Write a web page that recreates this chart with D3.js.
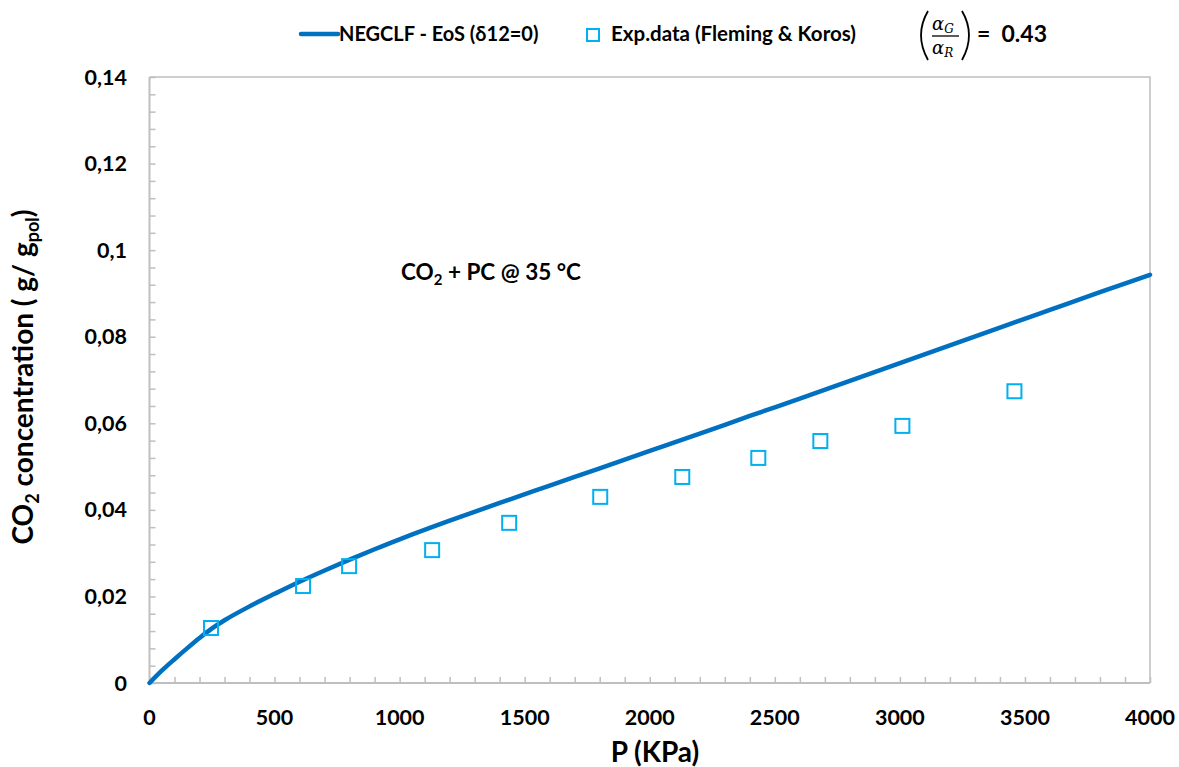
<!DOCTYPE html>
<html>
<head>
<meta charset="utf-8">
<script src="https://cdn.jsdelivr.net/npm/d3@7"></script>
<style>
  html, body { margin: 0; padding: 0; background: #fff; }
  svg text { font-family: Lato, "Open Sans", sans-serif; font-weight: bold; fill: #000; }
</style>
</head>
<body>
<svg id="chart" width="1179" height="767"></svg>
<script>
// NEGCLF model curve (P in kPa, concentration in g/g_pol)
const modelP = [0, 50, 100, 150, 200, 250, 300, 400, 500, 600, 700, 800, 900, 1000,
  1200, 1400, 1600, 1800, 2000, 2200, 2400, 2600, 2800, 3000, 3200, 3400, 3600, 3800, 4000];
const modelC = [0, 0.0029, 0.0055, 0.0080, 0.0104, 0.0126, 0.0145, 0.0177, 0.0206,
  0.0234, 0.0260, 0.0285, 0.0309, 0.0332, 0.0375, 0.0416, 0.0456, 0.0496, 0.0536, 0.0576,
  0.0617, 0.0657, 0.0698, 0.0739, 0.0780, 0.0821, 0.0862, 0.0903, 0.0943];

// Experimental sorption data (Fleming & Koros)
const expP = [246, 614, 798, 1130, 1438, 1802, 2130, 2434, 2682, 3010, 3458];
const expC = [0.0127, 0.0224, 0.0270, 0.0307, 0.0370, 0.0430, 0.0476, 0.0520, 0.0559, 0.0594, 0.0674];

const xTicks = [0, 500, 1000, 1500, 2000, 2500, 3000, 3500, 4000];
const yTicks = [0, 0.02, 0.04, 0.06, 0.08, 0.1, 0.12, 0.14];
const yTickLabels = ["0", "0,02", "0,04", "0,06", "0,08", "0,1", "0,12", "0,14"];

const svg = d3.select("#chart");
const plotL = 149.5, plotR = 1150, plotT = 77, plotB = 683;

const x = d3.scaleLinear().domain([0, 4000]).range([plotL, plotR]);
const y = d3.scaleLinear().domain([0, 0.14]).range([plotB, plotT]);

const axisColor = "#bfbfbf";

// plot frame (top and right)
svg.append("path")
  .attr("d", `M${plotL},${plotT}H${plotR}V${plotB}`)
  .attr("fill", "none").attr("stroke", axisColor).attr("stroke-width", 1.5);

// minor + major inward ticks
const xMinor = d3.range(0, 4001, 100);
const yMinor = d3.range(0, 0.1401, 0.004);

const gx = svg.append("g").attr("transform", `translate(0,${plotB})`);
gx.call(d3.axisBottom(x).tickValues(xMinor).tickSize(-6).tickFormat(""));
gx.select(".domain").remove();
gx.selectAll("line").attr("stroke", axisColor).attr("stroke-width", 1.5);

const gy = svg.append("g").attr("transform", `translate(${plotL},0)`);
gy.call(d3.axisLeft(y).tickValues(yMinor).tickSize(-6).tickFormat(""));
gy.select(".domain").remove();
gy.selectAll("line").attr("stroke", axisColor).attr("stroke-width", 1.5);

// axis lines
svg.append("line").attr("x1", plotL).attr("x2", plotR).attr("y1", plotB).attr("y2", plotB)
  .attr("stroke", axisColor).attr("stroke-width", 2);
svg.append("line").attr("x1", plotL).attr("x2", plotL).attr("y1", plotT).attr("y2", plotB)
  .attr("stroke", axisColor).attr("stroke-width", 2);

// tick labels
svg.append("g").selectAll("text").data(xTicks).join("text")
  .attr("x", d => x(d)).attr("y", 725)
  .attr("text-anchor", "middle").attr("font-size", 21.5)
  .text(d => d);

svg.append("g").selectAll("text").data(yTicks).join("text")
  .attr("x", 127).attr("y", d => y(d) + 7.5)
  .attr("text-anchor", "end").attr("font-size", 21.5)
  .text((d, i) => yTickLabels[i]);

// axis titles
svg.append("text").attr("x", 655).attr("y", 762).attr("text-anchor", "middle")
  .attr("font-size", 28).text("P (KPa)");

const yt = svg.append("text").attr("transform", "translate(33,377) rotate(-90)")
  .attr("text-anchor", "middle").attr("font-size", 28);
yt.append("tspan").text("CO");
yt.append("tspan").attr("font-size", 18).attr("dy", 6).text("2");
yt.append("tspan").attr("dy", -6).text(" concentration ( g/ g");
yt.append("tspan").attr("font-size", 18).attr("dy", 6).text("pol");
yt.append("tspan").attr("dy", -6).text(")");

// model curve
const line = d3.line().x(d => x(d[0])).y(d => y(d[1])).curve(d3.curveCatmullRom.alpha(0.5));
svg.append("path")
  .datum(modelP.map((p, i) => [p, modelC[i]]))
  .attr("d", line)
  .attr("fill", "none").attr("stroke", "#0070c0").attr("stroke-width", 4.5)
  .attr("stroke-linecap", "round");

// experimental points
const sq = 14;
svg.append("g").selectAll("rect").data(expP.map((p, i) => [p, expC[i]])).join("rect")
  .attr("x", d => x(d[0]) - sq / 2).attr("y", d => y(d[1]) - sq / 2)
  .attr("width", sq).attr("height", sq)
  .attr("fill", "none").attr("stroke", "#00b0f0").attr("stroke-width", 2);

// annotation
const ann = svg.append("text").attr("x", 401).attr("y", 280).attr("font-size", 22.5);
ann.append("tspan").text("CO");
ann.append("tspan").attr("font-size", 15).attr("dy", 5).text("2");
ann.append("tspan").attr("dy", -5).text(" + PC @ 35 °C");

// legend
svg.append("line").attr("x1", 301).attr("x2", 338).attr("y1", 34).attr("y2", 34)
  .attr("stroke", "#0070c0").attr("stroke-width", 4.5).attr("stroke-linecap", "round");
svg.append("text").attr("x", 339).attr("y", 41).attr("font-size", 20)
  .text("NEGCLF - EoS (δ12=0)");
svg.append("rect").attr("x", 587).attr("y", 29).attr("width", 12).attr("height", 12)
  .attr("fill", "none").attr("stroke", "#00b0f0").attr("stroke-width", 2);
svg.append("text").attr("x", 611).attr("y", 41).attr("font-size", 20.5)
  .text("Exp.data (Fleming & Koros)");

// ratio of glassy / rubbery parameters
const f = svg.append("g");
f.append("path").attr("d", "M928,11 Q914,35 928,60").attr("fill", "none")
  .attr("stroke", "#000").attr("stroke-width", 1.8);
f.append("path").attr("d", "M962,11 Q976,35 962,60").attr("fill", "none")
  .attr("stroke", "#000").attr("stroke-width", 1.8);
f.append("line").attr("x1", 932).attr("x2", 959).attr("y1", 36).attr("y2", 36)
  .attr("stroke", "#000").attr("stroke-width", 1.3);
const num = f.append("text").attr("x", 932).attr("y", 30)
  .style("font-family", "'DejaVu Serif', serif").style("font-style", "italic")
  .style("font-weight", "normal").attr("font-size", 18);
num.append("tspan").text("α");
num.append("tspan").attr("font-size", 12).attr("dy", 3).text("G");
const den = f.append("text").attr("x", 932).attr("y", 54)
  .style("font-family", "'DejaVu Serif', serif").style("font-style", "italic")
  .style("font-weight", "normal").attr("font-size", 18);
den.append("tspan").text("α");
den.append("tspan").attr("font-size", 12).attr("dy", 3).text("R");
svg.append("text").attr("x", 977).attr("y", 42).attr("font-size", 23)
  .attr("xml:space", "preserve").text("=  0.43");
</script>
</body>
</html>
